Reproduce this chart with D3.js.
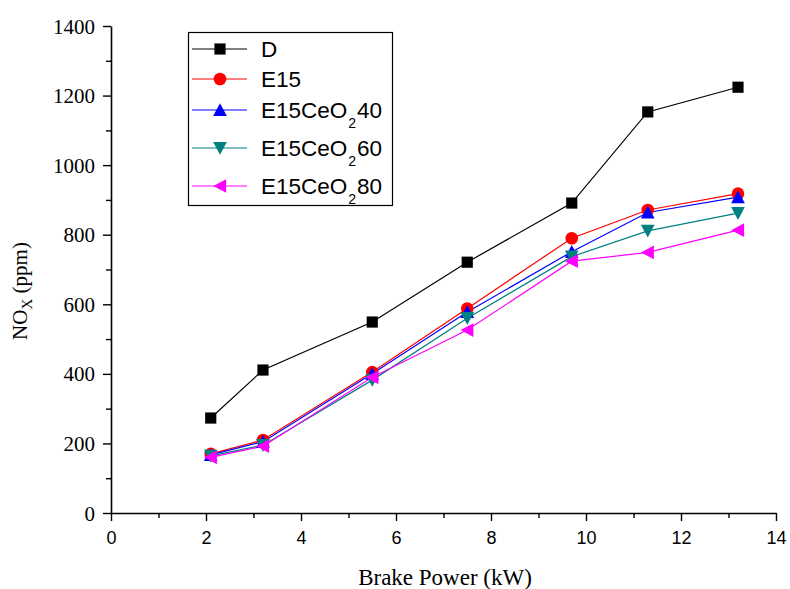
<!DOCTYPE html>
<html>
<head>
<meta charset="utf-8">
<script src="https://cdn.jsdelivr.net/npm/d3@7"></script>
<style>
  body { margin: 0; background: #fff; }
  svg { display: block; }
</style>
</head>
<body>
<div id="chart"></div>
<script>
// data
const power = [2.1, 3.2, 5.5, 7.5, 9.7, 11.3, 13.2];
const noxD = [273, 411, 549, 721, 891, 1153, 1224];
const noxE15 = [170, 210, 405, 588, 790, 871, 918];
const noxE15Ce40 = [167, 205, 400, 578, 751, 864, 908];
const noxE15Ce60 = [164, 195, 382, 560, 737, 811, 862];
const noxE15Ce80 = [160, 192, 390, 526, 724, 749, 813];

const xTicks = [0, 2, 4, 6, 8, 10, 12, 14];
const yTicks = [0, 200, 400, 600, 800, 1000, 1200, 1400];

const series = [
    {name: "D", sub: null, tail: "", values: noxD, color: "#000000", symbol: "square"},
    {name: "E15", sub: null, tail: "", values: noxE15, color: "#ff0000", symbol: "circle"},
    {name: "E15CeO", sub: "2", tail: "40", values: noxE15Ce40, color: "#0000ff", symbol: "up"},
    {name: "E15CeO", sub: "2", tail: "60", values: noxE15Ce60, color: "#008080", symbol: "down"},
    {name: "E15CeO", sub: "2", tail: "80", values: noxE15Ce80, color: "#ff00ff", symbol: "left"}
];

const W = 790, H = 589;
const margin = {top: 26, right: 14, bottom: 76, left: 111};
const width = W - margin.left - margin.right;
const height = H - margin.top - margin.bottom;

const serif = "'Liberation Serif', 'Times New Roman', serif";
const sans = "'Liberation Sans', Arial, sans-serif";

const svg = d3.select("#chart").append("svg")
    .attr("width", W)
    .attr("height", H);

const g = svg.append("g")
    .attr("transform", `translate(${margin.left}, ${margin.top})`);

const x = d3.scaleLinear().domain([0, 14]).range([0, width]);
const y = d3.scaleLinear().domain([0, 1400]).range([height, 0]);

// axes with minor ticks
function drawAxis(group, axisFn, scale, majors, minors, fontFamily, fontSize) {
    group.call(axisFn(scale).tickValues(minors).tickSize(5).tickFormat(""))
        .call(a => a.select(".domain").remove());
    const maj = group.append("g").call(axisFn(scale).tickValues(majors).tickSize(8).tickSizeOuter(0).tickFormat(d3.format("d")));
    maj.selectAll("text")
        .attr("font-family", fontFamily)
        .attr("font-size", fontSize)
        .attr("fill", "#000");
    group.selectAll("line").attr("stroke", "#000").attr("stroke-width", 1.4);
    group.selectAll(".domain").attr("stroke", "#000").attr("stroke-width", 1.6);
    return maj;
}

const xMinor = d3.range(1, 14, 2);
const yMinor = d3.range(100, 1400, 200);

const xAxisG = g.append("g").attr("transform", `translate(0, ${height})`);
const xMaj = drawAxis(xAxisG, d3.axisBottom, x, xTicks, xMinor, sans, 18);
xMaj.selectAll("text").attr("y", 31).attr("dy", 0);

const yAxisG = g.append("g");
const yMaj = drawAxis(yAxisG, d3.axisLeft, y, yTicks, yMinor, serif, 21);
yMaj.selectAll("text").attr("x", -16).attr("dy", "0.34em");

// axis titles
svg.append("text")
    .attr("x", 445)
    .attr("y", 585)
    .attr("text-anchor", "middle")
    .attr("font-family", serif)
    .attr("font-size", 23)
    .text("Brake Power (kW)");

const yTitle = svg.append("text")
    .attr("transform", `translate(27, 291) rotate(-90)`)
    .attr("text-anchor", "middle")
    .attr("font-family", serif)
    .attr("font-size", 21);
yTitle.append("tspan").text("NO");
yTitle.append("tspan").attr("font-size", 15).attr("dy", 5).text("X");
yTitle.append("tspan").attr("dy", -5).text(" (ppm)");

// marker shapes
const tri = {
    draw(ctx, size) {
        const s = Math.sqrt(size);
        ctx.moveTo(0, -s * 0.55);
        ctx.lineTo(s * 0.56, s * 0.5);
        ctx.lineTo(-s * 0.56, s * 0.5);
        ctx.closePath();
    }
};
function markerPath(symbol) {
    if (symbol === "square") return d3.symbol(d3.symbolSquare, 125)();
    if (symbol === "circle") return d3.symbol(d3.symbolCircle, 125)();
    return d3.symbol(tri, 150)();
}
function markerRotate(symbol) {
    if (symbol === "down") return 180;
    if (symbol === "left") return -90;
    return 0;
}

const line = d3.line()
    .x((d, i) => x(power[i]))
    .y(d => y(d));

series.forEach(s => {
    g.append("path")
        .datum(s.values)
        .attr("d", line)
        .attr("fill", "none")
        .attr("stroke", s.color)
        .attr("stroke-width", 1.2);
});

series.forEach(s => {
    g.selectAll(null)
        .data(s.values)
        .join("path")
        .attr("d", markerPath(s.symbol))
        .attr("transform", (d, i) => `translate(${x(power[i])}, ${y(d)}) rotate(${markerRotate(s.symbol)})`)
        .attr("fill", s.color);
});

// legend
const legendRows = [49, 79, 110, 148, 186];
const legend = svg.append("g");
legend.append("rect")
    .attr("x", 188.5)
    .attr("y", 32.5)
    .attr("width", 204)
    .attr("height", 173)
    .attr("fill", "#fff")
    .attr("stroke", "#000")
    .attr("stroke-width", 1.2);

series.forEach((s, i) => {
    const ly = legendRows[i];
    legend.append("line")
        .attr("x1", 192).attr("x2", 247)
        .attr("y1", ly).attr("y2", ly)
        .attr("stroke", s.color)
        .attr("stroke-width", 1.2);
    legend.append("path")
        .attr("d", markerPath(s.symbol))
        .attr("transform", `translate(220, ${ly}) rotate(${markerRotate(s.symbol)})`)
        .attr("fill", s.color);
    const t = legend.append("text")
        .attr("x", 261)
        .attr("y", ly + 7.5)
        .attr("font-family", sans)
        .attr("font-size", 22.5);
    t.append("tspan").text(s.name);
    if (s.sub) {
        t.append("tspan").attr("font-size", 14).attr("dx", 1).attr("dy", 10).text(s.sub);
        t.append("tspan").attr("dx", 1).attr("dy", -10).text(s.tail);
    }
});
</script>
</body>
</html>
